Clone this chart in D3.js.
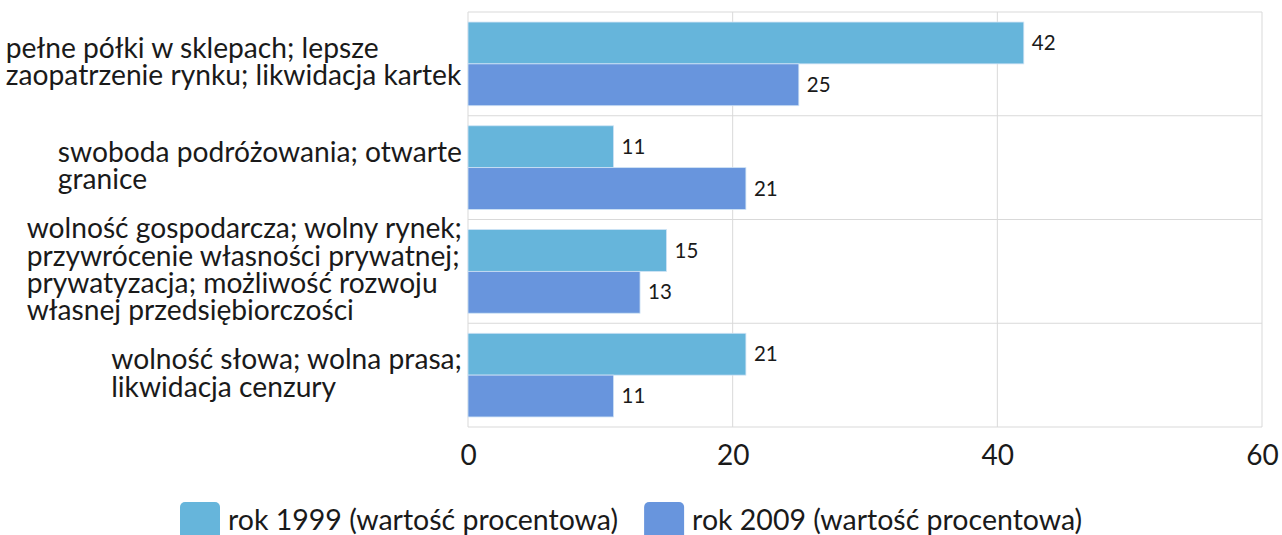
<!DOCTYPE html>
<html><head><meta charset="utf-8">
<script src="https://cdn.jsdelivr.net/npm/d3@7"></script>
<style>
html,body{margin:0;padding:0;background:#fff;}
text{font-family:Lato, "Open Sans", sans-serif;fill:#1a1a1a;}
</style></head>
<body><svg id="c" width="1282" height="535"></svg>
<script>
const categories = [
  ["pełne półki w sklepach; lepsze","zaopatrzenie rynku; likwidacja kartek"],
  ["swoboda podróżowania; otwarte","granice"],
  ["wolność gospodarcza; wolny rynek;","przywrócenie własności prywatnej;","prywatyzacja; możliwość rozwoju","własnej przedsiębiorczości"],
  ["wolność słowa; wolna prasa;","likwidacja cenzury"]
];
const seriesNames = ["rok 1999 (wartość procentowa)","rok 2009 (wartość procentowa)"];
const values1999 = [42, 11, 15, 21];
const values2009 = [25, 21, 13, 11];
const xTicks = [0, 20, 40, 60];
const colors = ["#66B5DB", "#6895DD"];

const svg = d3.select("#c");
const L = 468, R = 1262, T = 12, B = 427;
const x = d3.scaleLinear().domain([0, 60]).range([L, R]);
const y = d3.scaleBand().domain(d3.range(categories.length)).range([T, B]);
const inner = d3.scaleBand().domain([0,1]).range([0, y.bandwidth()]).paddingOuter(0.24).paddingInner(0);

// grid
const grid = svg.append("g");
grid.selectAll("line.v").data(xTicks).join("line")
  .attr("x1", d => x(d)).attr("x2", d => x(d)).attr("y1", T).attr("y2", B)
  .attr("stroke", "#d9d9d9").attr("stroke-width", 1);
grid.selectAll("line.h").data(d3.range(categories.length + 1)).join("line")
  .attr("x1", L).attr("x2", R)
  .attr("y1", d => d < categories.length ? y(d) : B).attr("y2", d => d < categories.length ? y(d) : B)
  .attr("stroke", "#d9d9d9").attr("stroke-width", 1);

// x axis tick labels
const xAxis = d3.axisBottom(x).tickValues(xTicks).tickSize(0).tickPadding(0);
const ax = svg.append("g").attr("transform", `translate(0,${B + 28})`).call(xAxis);
ax.select(".domain").remove();
ax.selectAll("text").attr("font-size", 28).attr("font-family", "Lato").attr("fill", "#1a1a1a").attr("dy", "0.35em");

// bars
const series = [values1999, values2009];
series.forEach((vals, si) => {
  const g = svg.append("g");
  g.selectAll("rect").data(vals).join("rect")
    .attr("x", x(0)).attr("y", (d, i) => y(i) + inner(si))
    .attr("width", d => x(d) - x(0)).attr("height", inner.bandwidth())
    .attr("fill", colors[si]).attr("stroke", "#cfe3f5").attr("stroke-width", 0.8);
  g.selectAll("text").data(vals).join("text")
    .attr("x", d => x(d) + 8).attr("y", (d, i) => y(i) + inner(si) + inner.bandwidth() / 2)
    .attr("dy", "0.35em").attr("font-size", 20.5).text(d => d);
});

// category labels
const lh = 27.2;
categories.forEach((lines, i) => {
  const g = svg.append("g");
  const cy = y(i) + y.bandwidth() / 2 - 2;
  const t = g.append("text").attr("font-size", 28.2);
  lines.forEach((ln, k) => {
    t.append("tspan").attr("x", 0).attr("y", cy + (k - (lines.length - 1) / 2) * lh).attr("dy", "0.35em").text(ln);
  });
  const w = t.node().getBBox().width;
  g.attr("transform", `translate(${462 - w},0)`);
});

// legend
const leg = svg.append("g");
let lx = 180;
seriesNames.forEach((n, i) => {
  leg.append("rect").attr("x", lx).attr("y", 502).attr("width", 40).attr("height", 44).attr("rx", 5).attr("fill", colors[i]);
  const t = leg.append("text").attr("x", lx + 48).attr("y", 520).attr("dy", "0.35em").attr("font-size", 28.5).text(n);
  lx += 48 + t.node().getComputedTextLength() + 26;
});
</script></body></html>
